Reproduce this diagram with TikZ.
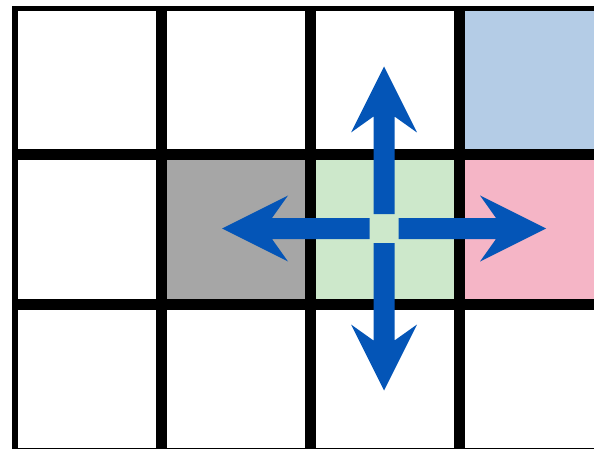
\documentclass[tikz,border=0pt]{standalone}
\definecolor{cellblue}{RGB}{180,204,230}
\definecolor{cellgray}{RGB}{166,166,166}
\definecolor{cellgreen}{RGB}{205,232,203}
\definecolor{cellpink}{RGB}{245,181,198}
\definecolor{arrowblue}{RGB}{4,85,183}
\tikzset{
  cell/.style={draw=black, line width=5.5pt},
  bigarrow/.pic={
    \fill[arrowblue] (14.5,10.5) -- (112,10.5) -- (96,33) -- (162,0)
      -- (96,-33) -- (112,-10.5) -- (14.5,-10.5) -- cycle;
  }
}
\begin{document}
\begin{tikzpicture}[x=1pt,y=-1pt]
\useasboundingbox (0,0) rectangle (594,449);
\clip (0,0) rectangle (594,449);
\fill[white] (0,0) rectangle (594,449);
% cells
\foreach \i in {0,1,2,3}{
  \foreach \j in {0,1,2}{
    \pgfmathsetmacro{\xa}{12+149*\i+2.75}
    \pgfmathsetmacro{\ya}{6+149*\j+2.75}
    \pgfmathsetmacro{\xb}{12+149*(\i+1)-2.75}
    \pgfmathsetmacro{\yb}{6+149*(\j+1)-2.75}
    \coordinate (c\i\j a) at (\xa,\ya);
    \coordinate (c\i\j b) at (\xb,\yb);
  }
}
\fill[cellblue] (c30a) rectangle (c30b);
\fill[cellgray] (c11a) rectangle (c11b);
\fill[cellgreen] (c21a) rectangle (c21b);
\fill[cellpink] (c31a) rectangle (c31b);
\foreach \i in {0,1,2,3}{
  \foreach \j in {0,1,2}{
    \draw[cell] (c\i\j a) rectangle (c\i\j b);
  }
}
% arrows
\coordinate (ctr) at (384,228.5);
\pic at (ctr) {bigarrow};
\pic[rotate=90] at (ctr) {bigarrow};
\pic[rotate=180] at (ctr) {bigarrow};
\pic[rotate=270] at (ctr) {bigarrow};
\end{tikzpicture}
\end{document}
